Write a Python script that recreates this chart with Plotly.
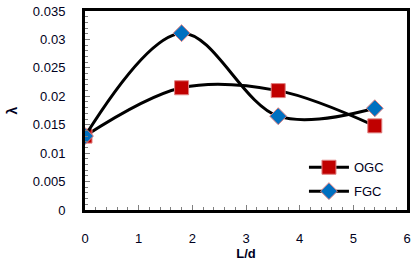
import plotly.graph_objects as go

x_vals = [0, 1.8, 3.6, 5.4]
ogc = [0.013, 0.0215, 0.0210, 0.0148]
fgc = [0.013, 0.0311, 0.0165, 0.0179]
y_ticks = [0, 0.005, 0.01, 0.015, 0.02, 0.025, 0.03, 0.035]
y_tick_text = ["0", "0.005", "0.01", "0.015", "0.02", "0.025", "0.03", "0.035"]
x_ticks = [0, 1, 2, 3, 4, 5, 6]

fig = go.Figure()
fig.add_trace(go.Scatter(
    x=x_vals, y=ogc, name="OGC", mode="lines+markers", legendgroup="a",
    line=dict(color="black", width=3, shape="spline", smoothing=1.0),
    marker=dict(symbol="square", size=14, color="#C00000", line=dict(color="#E08080", width=1)),
))
fig.add_trace(go.Scatter(
    x=x_vals, y=fgc, name="FGC", mode="lines+markers", legendgroup="b",
    line=dict(color="black", width=3, shape="spline", smoothing=1.0),
    marker=dict(symbol="diamond", size=13, color="#0070C0", line=dict(color="#E08080", width=1)),
))

font = dict(family="Liberation Sans, Arial", size=13, color="#000020")
fig.update_layout(
    width=417, height=268,
    margin=dict(l=85, r=10, t=11, b=58),
    paper_bgcolor="white", plot_bgcolor="white",
    font=font,
    showlegend=True,
    legend=dict(x=0.68, y=0.29, xanchor="left", yanchor="top",
                bgcolor="rgba(0,0,0,0)", font=dict(size=13, color="#000020"),
                itemwidth=40, tracegroupgap=4),
    xaxis=dict(range=[0, 6], tickvals=x_ticks, showgrid=False, zeroline=False,
               automargin=False,
               showline=True, linecolor="black", linewidth=3, mirror=True,
               ticks="inside", ticklen=5, tickcolor="#808080",
               minor=dict(dtick=0.2, ticks="inside", ticklen=3, tickcolor="#808080"),
               ticklabelstandoff=14,
               title=dict(text="<b>L/d</b>", standoff=0, font=dict(size=13))),
    yaxis=dict(range=[0, 0.035], tickvals=y_ticks, ticktext=y_tick_text,
               showgrid=False, zeroline=False, automargin=False,
               showline=True, linecolor="black", linewidth=3, mirror=True,
               ticks="inside", ticklen=5, tickcolor="#808080",
               minor=dict(dtick=0.001, ticks="inside", ticklen=3, tickcolor="#808080"),
               ticklabelstandoff=14,
               title=dict(text="<b>λ</b>", standoff=12, font=dict(size=14))),
)
fig.write_html("out.html", config={"displayModeBar": False},
               post_script="document.body.style.margin='0';")
